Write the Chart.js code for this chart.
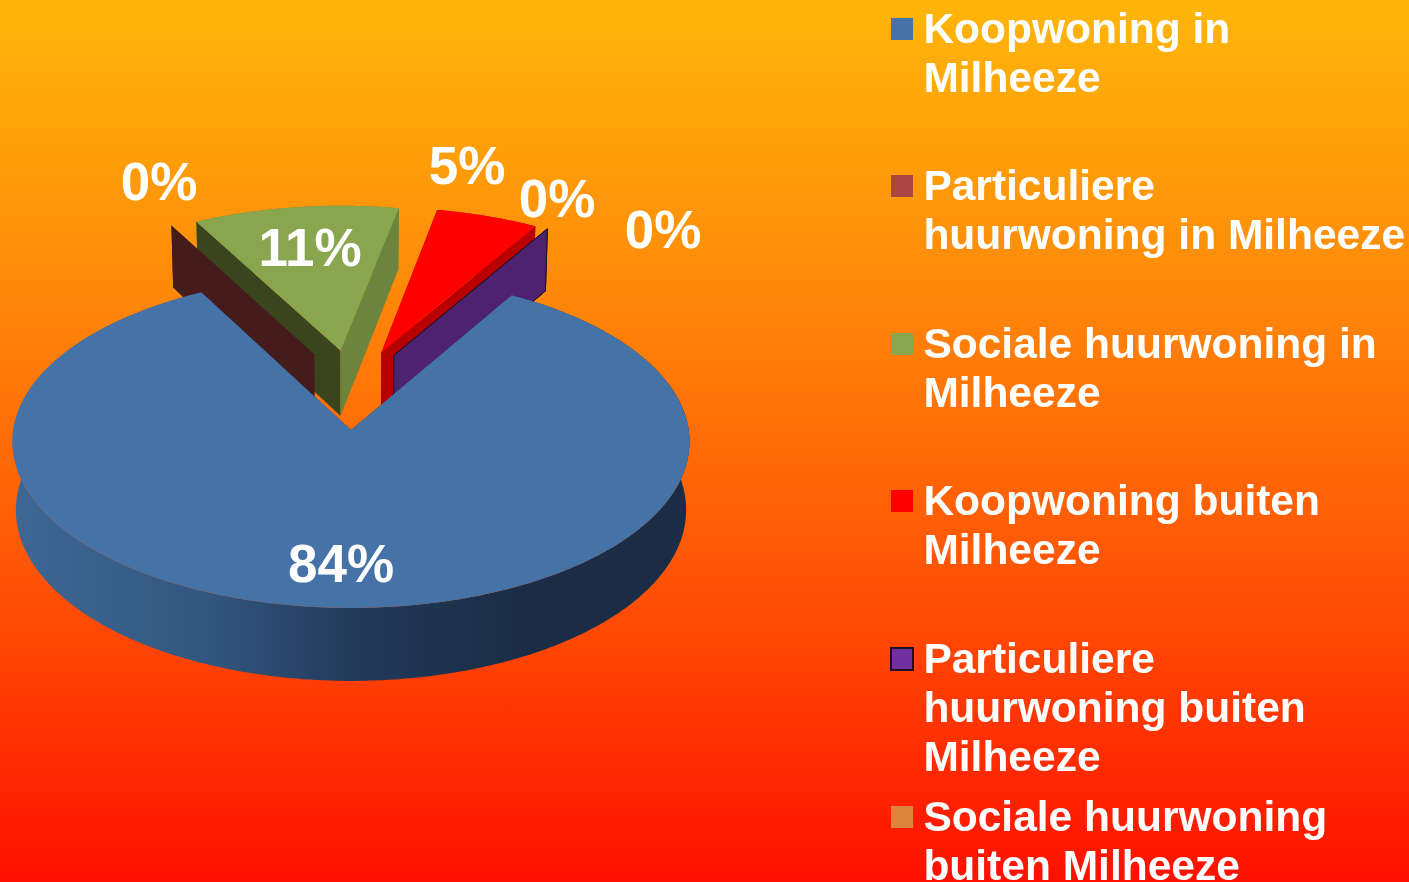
<!DOCTYPE html>
<html>
<head>
<meta charset="utf-8">
<title>Woonwens Milheeze</title>
<script src="https://cdn.jsdelivr.net/npm/chart.js@4/dist/chart.umd.min.js"></script>
<style>
    html, body { margin: 0; padding: 0; width: 1409px; height: 882px; overflow: hidden; }
    body { position: relative; background: linear-gradient(to bottom, #ffb60a 0%, #ff8d0a 30%, #ff4a05 71%, #ff1000 100%); font-family: "Liberation Sans", Arial, sans-serif; }
    canvas { position: absolute; left: 0; top: 0; }
    #legend { position: absolute; left: 0; top: 0; width: 1409px; height: 882px; overflow: hidden; }
    .item { position: absolute; left: 923.4px; color: #fff; font-weight: bold; font-size: 42.5px; line-height: 49px; white-space: pre; }
    .swatch { position: absolute; left: 891px; width: 22px; height: 22px; box-sizing: border-box; }
</style>
</head>
<body>
<canvas id="myChart" width="1409" height="882"></canvas>
<div id="legend"></div>
<script>
// chart data
var categories = [
    'Koopwoning in\nMilheeze',
    'Particuliere\nhuurwoning in Milheeze',
    'Sociale huurwoning in\nMilheeze',
    'Koopwoning buiten\nMilheeze',
    'Particuliere\nhuurwoning buiten\nMilheeze',
    'Sociale huurwoning\nbuiten Milheeze'
];
var values = [83.8, 0, 10.8, 5.4, 0, 0];

// styles
var colors = ['#4572a7', '#aa4643', '#89a54e', '#ff0000', '#7030a0', '#db843d'];
var startWalls = ['#1b2d46', '#451c1b', '#3a441d', '#b80000', '#4f2270', '#8a5226'];
var endWalls = ['#1b2d46', '#451c1b', '#6d843e', '#b80000', '#4f2270', '#8a5226'];
var labelSpots = [[341, 567], [159, 185], [310, 251], [467, 169], [557, 202], [663, 233]];
var legendTops = [29, 186, 344, 501, 659, 817];

var RADIUS = 337.7;
var EXPLODE = 0.25;   // share of the radius every slice is pulled out
var TILT = 0.49;      // flattening of the disc
var DEPTH = 0.201;    // height of the disc
var PERSP = 0.07;     // front of the disc is nearer than the back
var FOOT = 0.01;      // underside of the disc is a bit smaller

// Function to project a point of the disc (in radii) on the canvas
function project(arc, ux, uy, z) {
    var w = 1 - PERSP * uy;
    return {
        x: arc.x + RADIUS * ux * (1 - FOOT * z) / w,
        y: arc.y + RADIUS * (TILT * uy + DEPTH * z) / w
    };
}

function fillPath(ctx, points, fill, stroke) {
    ctx.beginPath();
    points.forEach(function(p, i) {
        if (i === 0) ctx.moveTo(p.x, p.y);
        else ctx.lineTo(p.x, p.y);
    });
    ctx.closePath();
    ctx.fillStyle = fill;
    ctx.fill();
    if (stroke) {
        ctx.strokeStyle = stroke;
        ctx.lineWidth = 1;
        ctx.stroke();
    }
}

// Function to draw one slice as a block, the angles come from the pie controller
function drawSlice(ctx, arc, index, origin) {
    var start = arc.startAngle, end = arc.endAngle;
    var mid = (start + end) / 2;
    var off = arc.options.offset / arc.outerRadius;
    var ox = Math.cos(mid) * off - origin.x;
    var oy = Math.sin(mid) * off - origin.y;
    var stroke = index === 4 ? '#1a1020' : null;

    var apexTop = project(arc, ox, oy, 0), apexBottom = project(arc, ox, oy, 1);
    var rim = function(angle, z) {
        return project(arc, ox + Math.cos(angle), oy + Math.sin(angle), z);
    };

    var topEdge = [], bottomEdge = [];
    if (end > start) {
        var steps = Math.ceil((end - start) / 0.01);
        for (var i = 0; i <= steps; i++) {
            var angle = start + (end - start) * i / steps;
            topEdge.push(rim(angle, 0));
            bottomEdge.unshift(rim(angle, 1));
        }
        var side = ctx.createLinearGradient(arc.x - RADIUS, 0, arc.x + RADIUS, 0);
        if (index === 0) {
            side.addColorStop(0, '#3f6795');
            side.addColorStop(0.3, '#32557d');
            side.addColorStop(0.5, '#233a5a');
            side.addColorStop(0.75, '#1b2d46');
            side.addColorStop(1, '#1b2d46');
        } else {
            side.addColorStop(0, endWalls[index]);
            side.addColorStop(1, endWalls[index]);
        }
        fillPath(ctx, topEdge.concat(bottomEdge), side);
    }

    fillPath(ctx, [apexTop, rim(start, 0), rim(start, 1), apexBottom], startWalls[index], stroke);
    fillPath(ctx, [apexTop, rim(end, 0), rim(end, 1), apexBottom], endWalls[index], stroke);

    if (end > start) {
        fillPath(ctx, [apexTop].concat(topEdge), colors[index]);
    }
}

var pie3d = {
    id: 'pie3d',
    // the flat arcs are replaced by the blocks below
    beforeDatasetDraw: function() {
        return false;
    },
    afterDatasetsDraw: function(chart) {
        var ctx = chart.ctx;
        var arcs = chart.getDatasetMeta(0).data;
        var first = arcs[0];
        var firstMid = (first.startAngle + first.endAngle) / 2;
        var firstOff = first.options.offset / first.outerRadius;
        var origin = { x: Math.cos(firstMid) * firstOff, y: Math.sin(firstMid) * firstOff };

        ctx.save();
        [2, 1, 3, 5, 4, 0].forEach(function(i) {
            drawSlice(ctx, arcs[i], i, origin);
        });

        var total = values.reduce(function(a, b) { return a + b; }, 0);
        ctx.fillStyle = '#ffffff';
        ctx.font = 'bold 53px "Liberation Sans", Arial, sans-serif';
        ctx.textAlign = 'center';
        ctx.textBaseline = 'middle';
        values.forEach(function(v, i) {
            ctx.fillText(Math.round(v / total * 100) + '%', labelSpots[i][0], labelSpots[i][1]);
        });
        ctx.restore();
    }
};

// Function to create the Chart.js chart
function createChart() {
    var ctx = document.getElementById('myChart').getContext('2d');
    return new Chart(ctx, {
        type: 'pie',
        data: {
            labels: categories,
            datasets: [{
                data: values,
                backgroundColor: colors,
                borderWidth: 0,
                radius: RADIUS,
                offset: RADIUS * EXPLODE
            }]
        },
        options: {
            responsive: false,
            animation: false,
            rotation: 30.3,
            layout: { padding: { left: 0, right: 707, top: 0, bottom: 22 } },
            plugins: {
                legend: { display: false },
                tooltip: { enabled: false }
            }
        },
        plugins: [pie3d]
    });
}

// Function to write the legend next to the chart
function createLegend() {
    var box = document.getElementById('legend');
    categories.forEach(function(name, i) {
        var swatch = document.createElement('div');
        swatch.className = 'swatch';
        swatch.style.top = (legendTops[i] - 11) + 'px';
        swatch.style.background = colors[i];
        if (i === 4) {
            swatch.style.left = '890px';
            swatch.style.top = (legendTops[i] - 12) + 'px';
            swatch.style.width = '24px';
            swatch.style.height = '24px';
            swatch.style.border = '2px solid #1a1020';
        }
        box.appendChild(swatch);

        var item = document.createElement('div');
        item.className = 'item';
        item.style.top = (legendTops[i] - 25) + 'px';
        item.textContent = name;
        box.appendChild(item);
    });
}

createChart();
createLegend();
</script>
</body>
</html>
